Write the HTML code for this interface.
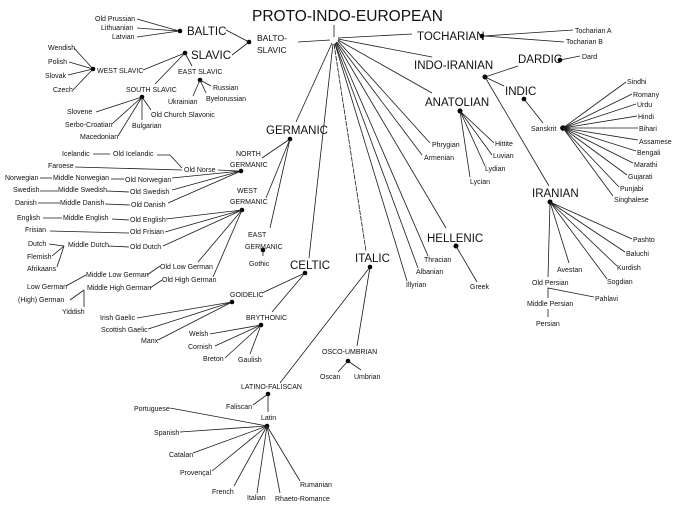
<!DOCTYPE html>
<html><head><meta charset="utf-8"><style>
html,body{margin:0;padding:0;background:#fff}
svg{display:block}
text{font-family:"Liberation Sans",sans-serif;fill:#111}
.s{font-size:7px}
.m{font-size:8.5px}
.g{font-size:11.5px}
line,polyline{stroke:#1a1a1a;stroke-width:0.8;fill:none}
</style></head><body>
<svg width="678" height="509" viewBox="0 0 678 509" xmlns="http://www.w3.org/2000/svg">
<text x="252" y="21" style="font-size:15.5px">PROTO-INDO-EUROPEAN</text>
<line x1="334" y1="25" x2="334" y2="37"/>
<!-- root lines -->
<g>
<line x1="330" y1="40" x2="298" y2="42"/>
<line x1="338" y1="38" x2="412" y2="34"/>
<line x1="338" y1="39" x2="432" y2="57"/>
<line x1="338" y1="40" x2="432" y2="93"/>
<line x1="338" y1="41" x2="430" y2="143"/>
<line x1="337" y1="42" x2="422" y2="155"/>
<line x1="336" y1="42" x2="446" y2="228"/>
<line x1="336" y1="43" x2="428" y2="256"/>
<line x1="335" y1="43" x2="418" y2="268"/>
<line x1="335" y1="44" x2="407" y2="281"/>
<line x1="334" y1="44" x2="366" y2="251" stroke-dasharray="5,1"/>
<line x1="333" y1="44" x2="309" y2="258"/>
<line x1="332" y1="43" x2="296" y2="122"/>
</g>
<!-- Balto-Slavic -->
<text x="257" y="41" class="m">BALTO-</text><text x="257" y="53" class="m">SLAVIC</text>
<circle cx="249" cy="42" r="2.3"/>
<text x="187" y="35" class="g">BALTIC</text><circle cx="180" cy="31" r="2.3"/>
<line x1="226" y1="30" x2="249" y2="42"/>
<text x="95" y="21" class="s">Old Prussian</text><text x="101" y="30" class="s">Lithuanian</text><text x="112" y="39" class="s">Latvian</text>
<line x1="137" y1="19" x2="179" y2="31"/><line x1="137" y1="28" x2="179" y2="31"/><line x1="137" y1="37" x2="179" y2="31"/>
<text x="191" y="59" class="g">SLAVIC</text><circle cx="185" cy="53" r="2.3"/>
<line x1="232" y1="55" x2="249" y2="42"/>
<text x="97" y="73" class="s">WEST SLAVIC</text><circle cx="93" cy="69" r="2.3"/>
<line x1="143" y1="70" x2="185" y2="53"/>
<text x="48" y="50" class="s">Wendish</text><text x="48" y="64" class="s">Polish</text><text x="45" y="78" class="s">Slovak</text><text x="53" y="92" class="s">Czech</text>
<line x1="74" y1="48" x2="93" y2="69"/><line x1="69" y1="62" x2="93" y2="69"/><line x1="68" y1="75" x2="93" y2="69"/><line x1="73" y1="90" x2="93" y2="69"/>
<text x="178" y="74" class="s">EAST SLAVIC</text><line x1="185" y1="53" x2="192" y2="66"/>
<circle cx="200" cy="80" r="2.3"/>
<text x="213" y="90" class="s">Russian</text><text x="206" y="101" class="s">Byelorussian</text><text x="168" y="104" class="s">Ukrainian</text>
<line x1="200" y1="80" x2="211" y2="86"/><line x1="200" y1="80" x2="193" y2="96"/><line x1="200" y1="80" x2="206" y2="93"/>
<text x="126" y="92" class="s">SOUTH SLAVIC</text><line x1="185" y1="53" x2="155" y2="84"/>
<circle cx="142" cy="97" r="2.3"/>
<text x="67" y="114" class="s">Slovene</text><text x="65" y="127" class="s">Serbo-Croatian</text><text x="80" y="139" class="s">Macedonian</text>
<text x="132" y="128" class="s">Bulgarian</text><text x="151" y="117" class="s">Old Church Slavonic</text>
<line x1="96" y1="112" x2="142" y2="97"/><line x1="112" y1="124" x2="142" y2="97"/><line x1="118" y1="136" x2="142" y2="97"/><line x1="142" y1="97" x2="142" y2="120"/><line x1="142" y1="97" x2="151" y2="110"/>
<!-- Germanic -->
<text x="266" y="134" class="g">GERMANIC</text><circle cx="290" cy="139" r="2.3"/>
<text x="236" y="156" class="s">NORTH</text><text x="230" y="167" class="s">GERMANIC</text>
<line x1="262" y1="158" x2="290" y2="139"/><line x1="290" y1="139" x2="266" y2="198"/><line x1="290" y1="139" x2="270" y2="228"/>
<circle cx="241" cy="171" r="2.3"/>
<text x="184" y="172" class="s">Old Norse</text><line x1="218" y1="170" x2="238" y2="171"/>
<text x="62" y="156" class="s">Icelandic</text><line x1="93" y1="154" x2="110" y2="154"/><text x="113" y="156" class="s">Old Icelandic</text>
<polyline points="157,155 170,155 182,168"/>
<text x="48" y="168" class="s">Faroese</text><line x1="75" y1="167" x2="182" y2="170"/>
<text x="5" y="180" class="s">Norwegian</text><line x1="40" y1="178" x2="52" y2="178"/><text x="53" y="180" class="s">Middle Norwegian</text><line x1="111" y1="179" x2="124" y2="179"/><text x="125" y="182" class="s">Old Norwegian</text>
<text x="13" y="192" class="s">Swedish</text><line x1="40" y1="191" x2="58" y2="191"/><text x="58" y="192" class="s">Middle Swedish</text><line x1="107" y1="191" x2="129" y2="192"/><text x="130" y="194" class="s">Old Swedish</text>
<text x="15" y="205" class="s">Danish</text><line x1="38" y1="203" x2="60" y2="203"/><text x="60" y="205" class="s">Middle Danish</text><line x1="105" y1="204" x2="130" y2="205"/><text x="131" y="207" class="s">Old Danish</text>
<line x1="172" y1="178" x2="241" y2="171"/><line x1="172" y1="190" x2="241" y2="171"/><line x1="168" y1="203" x2="241" y2="171"/>
<text x="237" y="193" class="s">WEST</text><text x="230" y="204" class="s">GERMANIC</text>
<circle cx="242" cy="210" r="2.3"/>
<text x="17" y="220" class="s">English</text><line x1="43" y1="218" x2="62" y2="218"/><text x="63" y="220" class="s">Middle English</text><line x1="112" y1="219" x2="129" y2="220"/><text x="130" y="222" class="s">Old English</text>
<text x="25" y="232" class="s">Frisian</text><line x1="50" y1="231" x2="129" y2="233"/><text x="130" y="234" class="s">Old Frisian</text>
<text x="28" y="246" class="s">Dutch</text><line x1="49" y1="244" x2="64" y2="246"/><text x="68" y="247" class="s">Middle Dutch</text><line x1="108" y1="246" x2="129" y2="247"/><text x="130" y="249" class="s">Old Dutch</text>
<text x="27" y="259" class="s">Flemish</text><text x="27" y="271" class="s">Afrikaans</text>
<line x1="52" y1="256" x2="64" y2="246"/><line x1="57" y1="267" x2="64" y2="246"/>
<line x1="166" y1="219" x2="242" y2="210"/><line x1="165" y1="232" x2="242" y2="210"/><line x1="163" y1="246" x2="242" y2="210"/><line x1="198" y1="262" x2="242" y2="210"/><line x1="213" y1="277" x2="242" y2="210"/>
<text x="160" y="269" class="s">Old Low German</text><text x="162" y="282" class="s">Old High German</text>
<text x="86" y="277" class="s">Middle Low German</text><text x="87" y="290" class="s">Middle High German</text>
<line x1="147" y1="275" x2="160" y2="266"/><line x1="150" y1="288" x2="162" y2="280"/>
<text x="27" y="289" class="s">Low German</text><text x="18" y="302" class="s">(High) German</text><text x="62" y="314" class="s">Yiddish</text>
<line x1="66" y1="286" x2="86" y2="275"/><line x1="70" y1="300" x2="84" y2="290"/><line x1="84" y1="290" x2="84" y2="307"/>
<text x="248" y="237" class="s">EAST</text><text x="245" y="249" class="s">GERMANIC</text>
<circle cx="263" cy="250" r="2.3"/><line x1="263" y1="250" x2="263" y2="256"/><text x="249" y="266" class="s">Gothic</text>
<!-- Celtic -->
<text x="290" y="269" class="g">CELTIC</text><circle cx="305" cy="273" r="2.3"/>
<text x="230" y="297" class="s">GOIDELIC</text><line x1="262" y1="293" x2="305" y2="273"/>
<circle cx="232" cy="302" r="2.3"/>
<text x="100" y="320" class="s">Irish Gaelic</text><text x="101" y="332" class="s">Scottish Gaelic</text><text x="141" y="343" class="s">Manx</text>
<line x1="137" y1="318" x2="232" y2="302"/><line x1="148" y1="329" x2="232" y2="302"/><line x1="158" y1="340" x2="232" y2="302"/>
<text x="246" y="320" class="s">BRYTHONIC</text><line x1="272" y1="312" x2="305" y2="273"/>
<circle cx="261" cy="325" r="2.3"/>
<text x="189" y="336" class="s">Welsh</text><text x="188" y="349" class="s">Cornish</text><text x="203" y="361" class="s">Breton</text><text x="238" y="362" class="s">Gaulish</text>
<line x1="210" y1="334" x2="261" y2="325"/><line x1="215" y1="346" x2="261" y2="325"/><line x1="225" y1="358" x2="261" y2="325"/><line x1="250" y1="354" x2="261" y2="325"/>
<!-- Italic -->
<text x="355" y="262" class="g">ITALIC</text><circle cx="370" cy="267" r="2.3"/>
<line x1="370" y1="267" x2="357" y2="346"/><line x1="370" y1="267" x2="280" y2="383"/>
<text x="322" y="354" class="s">OSCO-UMBRIAN</text><circle cx="348" cy="361" r="2.3"/>
<line x1="348" y1="361" x2="338" y2="372"/><line x1="348" y1="361" x2="361" y2="370"/>
<text x="320" y="379" class="s">Oscan</text><text x="354" y="379" class="s">Umbrian</text>
<text x="241" y="389" class="s">LATINO-FALISCAN</text><circle cx="268" cy="394" r="2.3"/>
<line x1="268" y1="394" x2="253" y2="405"/><line x1="268" y1="394" x2="268" y2="412"/>
<text x="226" y="409" class="s">Faliscan</text><text x="261" y="420" class="s">Latin</text>
<circle cx="267" cy="426" r="2.3"/>
<text x="134" y="411" class="s">Portuguese</text><text x="154" y="435" class="s">Spanish</text><text x="169" y="457" class="s">Catalan</text><text x="180" y="475" class="s">Provençal</text><text x="212" y="494" class="s">French</text><text x="247" y="500" class="s">Italian</text><text x="275" y="501" class="s">Rhaeto-Romance</text><text x="300" y="487" class="s">Rumanian</text>
<line x1="170" y1="408" x2="267" y2="426"/><line x1="180" y1="432" x2="267" y2="426"/><line x1="193" y1="453" x2="267" y2="426"/><line x1="212" y1="471" x2="267" y2="426"/><line x1="234" y1="486" x2="267" y2="426"/><line x1="257" y1="493" x2="267" y2="426"/><line x1="280" y1="493" x2="267" y2="426"/><line x1="300" y1="481" x2="267" y2="426"/>
<!-- Tocharian -->
<text x="417" y="40" class="g">TOCHARIAN</text><circle cx="482" cy="36" r="2.3"/>
<line x1="484" y1="36" x2="573" y2="30"/><line x1="484" y1="36" x2="564" y2="42"/>
<text x="575" y="33" class="s">Tocharian A</text><text x="566" y="44" class="s">Tocharian B</text>
<!-- Indo-Iranian -->
<text x="414" y="69" class="g">INDO-IRANIAN</text><circle cx="485" cy="77" r="2.5"/>
<text x="518" y="63" class="g">DARDIC</text><circle cx="560" cy="60" r="2.3"/>
<line x1="485" y1="77" x2="518" y2="66"/><line x1="560" y1="60" x2="580" y2="56"/><text x="582" y="59" class="s">Dard</text>
<text x="505" y="95" class="g">INDIC</text><line x1="485" y1="77" x2="504" y2="86"/>
<circle cx="524" cy="99" r="2.3"/><line x1="524" y1="99" x2="543" y2="123"/>
<text x="531" y="131" class="s">Sanskrit</text><circle cx="563" cy="128" r="2.8"/>
<g>
<line x1="563" y1="128" x2="626" y2="82"/><line x1="563" y1="128" x2="632" y2="94"/><line x1="563" y1="128" x2="636" y2="104"/><line x1="563" y1="128" x2="637" y2="116"/><line x1="563" y1="128" x2="638" y2="128"/><line x1="563" y1="128" x2="638" y2="140"/><line x1="563" y1="128" x2="636" y2="151"/><line x1="563" y1="128" x2="633" y2="163"/><line x1="563" y1="128" x2="627" y2="175"/><line x1="563" y1="128" x2="619" y2="187"/><line x1="563" y1="128" x2="613" y2="196"/>
</g>
<text x="627" y="84" class="s">Sindhi</text><text x="633" y="97" class="s">Romany</text><text x="637" y="107" class="s">Urdu</text><text x="638" y="119" class="s">Hindi</text><text x="639" y="131" class="s">Bihari</text><text x="639" y="144" class="s">Assamese</text><text x="637" y="155" class="s">Bengali</text><text x="634" y="167" class="s">Marathi</text><text x="628" y="179" class="s">Gujarati</text><text x="620" y="191" class="s">Punjabi</text><text x="614" y="202" class="s">Singhalese</text>
<line x1="485" y1="77" x2="549" y2="186"/>
<text x="532" y="197" class="g">IRANIAN</text><circle cx="550" cy="202" r="2.5"/>
<line x1="550" y1="202" x2="632" y2="239"/><line x1="550" y1="202" x2="625" y2="252"/><line x1="550" y1="202" x2="617" y2="266"/><line x1="550" y1="202" x2="607" y2="279"/><line x1="550" y1="202" x2="569" y2="263"/><line x1="550" y1="202" x2="548" y2="277"/>
<text x="633" y="242" class="s">Pashto</text><text x="626" y="256" class="s">Baluchi</text><text x="617" y="270" class="s">Kurdish</text><text x="607" y="284" class="s">Sogdian</text><text x="557" y="272" class="s">Avestan</text><text x="532" y="285" class="s">Old Persian</text>
<polyline points="594,297 548,288 548,298"/><line x1="548" y1="309" x2="548" y2="317"/>
<text x="595" y="301" class="s">Pahlavi</text><text x="527" y="306" class="s">Middle Persian</text><text x="536" y="326" class="s">Persian</text>
<!-- Anatolian -->
<text x="425" y="106" class="g">ANATOLIAN</text><circle cx="460" cy="111" r="2.5"/>
<line x1="460" y1="111" x2="494" y2="143"/><line x1="460" y1="111" x2="492" y2="155"/><line x1="460" y1="111" x2="485" y2="166"/><line x1="460" y1="111" x2="470" y2="177"/>
<text x="495" y="146" class="s">Hittite</text><text x="493" y="158" class="s">Luvian</text><text x="485" y="171" class="s">Lydian</text><text x="470" y="184" class="s">Lycian</text>
<text x="432" y="147" class="s">Phrygian</text><text x="424" y="160" class="s">Armenian</text>
<text x="427" y="242" class="g">HELLENIC</text><circle cx="456" cy="246" r="2.5"/>
<line x1="456" y1="246" x2="477" y2="282"/><text x="470" y="289" class="s">Greek</text>
<text x="424" y="262" class="s">Thracian</text><text x="416" y="274" class="s">Albanian</text><text x="406" y="287" class="s">Illyrian</text>
</svg>
</body></html>
